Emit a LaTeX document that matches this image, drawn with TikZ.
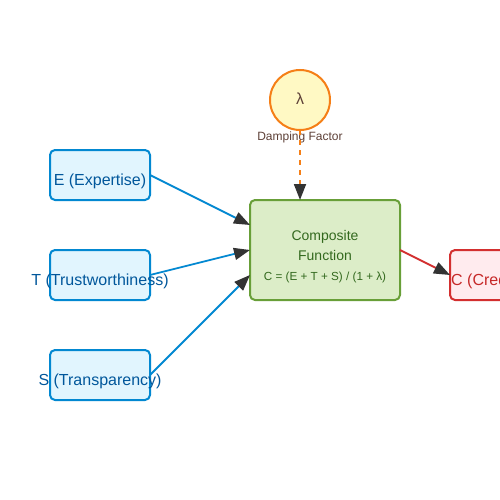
\documentclass[tikz,border=0pt]{standalone}
\usepackage{fontspec}
\setmainfont{Liberation Sans}
\usetikzlibrary{arrows.meta}
\definecolor{bfill}{HTML}{E1F5FE}
\definecolor{bdraw}{HTML}{0288D1}
\definecolor{btext}{HTML}{01579B}
\definecolor{gfill}{HTML}{DCEDC8}
\definecolor{gdraw}{HTML}{689F38}
\definecolor{gtext}{HTML}{33691E}
\definecolor{rfill}{HTML}{FFEBEE}
\definecolor{rdraw}{HTML}{D32F2F}
\definecolor{rtext}{HTML}{C62828}
\definecolor{yfill}{HTML}{FFF9C4}
\definecolor{odraw}{HTML}{F57F17}
\definecolor{brn}{HTML}{5D4037}
\definecolor{tip}{HTML}{333333}
\tikzset{
  box/.style={draw, line width=2pt, rounded corners=5pt},
  lbl/.style={anchor=base, inner sep=0pt, font=\fontsize{16}{19}\selectfont},
  conn/.style={line width=1.8pt, -{Triangle[length=16pt,width=12pt,fill=tip,color=tip]}},
}
\begin{document}
\begin{tikzpicture}[x=1pt,y=-1pt]
\useasboundingbox (0,0) rectangle (500,500);
% input boxes
\draw[box, fill=bfill, draw=bdraw] (50,150) rectangle (150,200);
\node[coordinate] (E) at (150,175) {};
\node[lbl, text=btext] (Et) at (100,185) {E (Expertise)};
\draw[box, fill=bfill, draw=bdraw] (50,250) rectangle (150,300);
\node[coordinate] (T) at (150,275) {};
\node[lbl, text=btext] (Tt) at (100,285) {T (Trustworthiness)};
\draw[box, fill=bfill, draw=bdraw] (50,350) rectangle (150,400);
\node[coordinate] (S) at (150,375) {};
\node[lbl, text=btext] (St) at (100,385) {S (Transparency)};
% composite
\draw[box, fill=gfill, draw=gdraw] (250,200) rectangle (400,300);
\node[coordinate] (CE) at (250,225) {};
\node[coordinate] (CT) at (250,250) {};
\node[coordinate] (CS) at (250,275) {};
\node[coordinate] (CO) at (400,250) {};
\node[coordinate] (CTop) at (300,200) {};
\node[lbl, text=gtext, font=\fontsize{14}{17}\selectfont] (c1) at (325,240) {Composite};
\node[lbl, text=gtext, font=\fontsize{14}{17}\selectfont] (c2) at (325,260) {Function};
\node[lbl, text=gtext, font=\fontsize{11.7}{14}\selectfont] (c3) at (325,280) {C = (E + T + S) / (1 + λ)};
% output
\draw[box, fill=rfill, draw=rdraw] (450,250) rectangle (550,300);
\node[coordinate] (Cin) at (450,275) {};
\node[anchor=base west, inner sep=0pt, text=rtext, font=\fontsize{16}{19}\selectfont] (Ct) at (451,285) {C (Credibility)};
% lambda
\node[circle, draw=odraw, fill=yfill, line width=2pt, minimum size=60pt, inner sep=0pt] (L) at (300,100) {};
\node[lbl, text=brn] (Lt) at (300,105) {λ};
\node[coordinate] (Lb) at (300,130) {};
\node[lbl, text=brn, font=\fontsize{12}{14}\selectfont] (Dt) at (300,140) {Damping Factor};
% connectors
\draw[conn, draw=bdraw] (E) -- (CE);
\draw[conn, draw=bdraw] (T) -- (CT);
\draw[conn, draw=bdraw] (S) -- (CS);
\draw[conn, draw=rdraw] (CO) -- (Cin);
\draw[conn, draw=odraw, dash pattern=on 5pt off 5pt] (Lb) -- (CTop);
\end{tikzpicture}
\end{document}
